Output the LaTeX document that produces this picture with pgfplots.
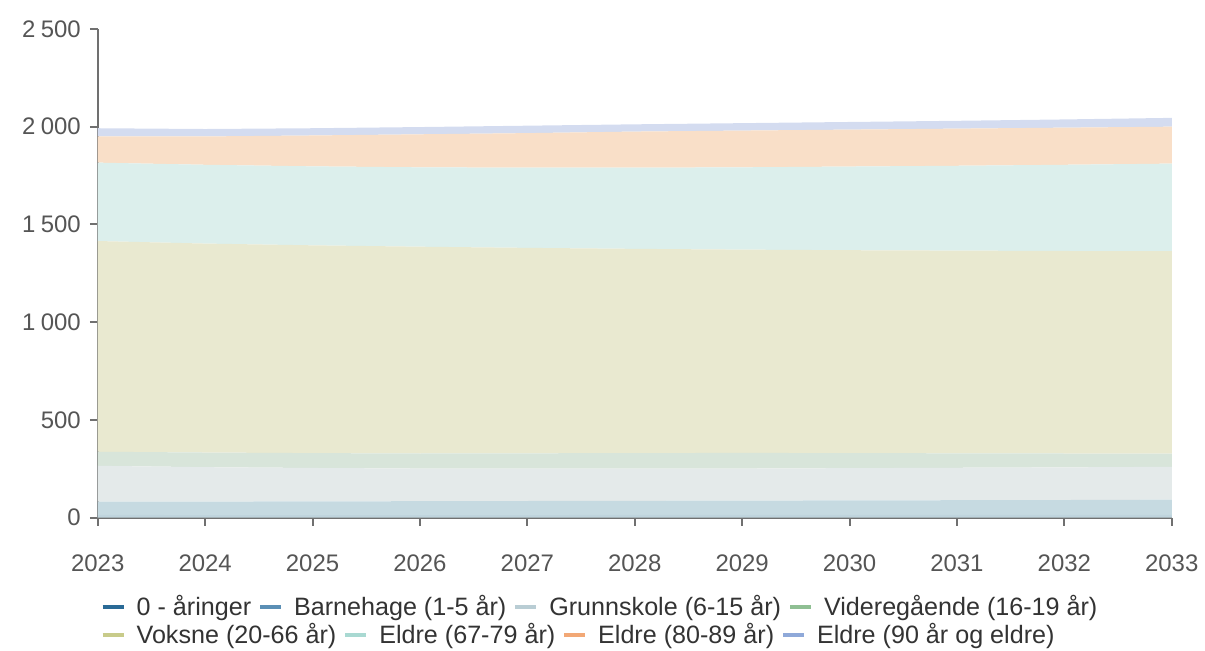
\documentclass[border=0pt]{standalone}
\usepackage{pgfplots}
\pgfplotsset{compat=1.18}
\usepackage{fontspec}
\setmainfont{Liberation Sans}

\definecolor{fA}{HTML}{BFD4DD}
\definecolor{fB}{HTML}{C6DAE1}
\definecolor{fC}{HTML}{E4EAEA}
\definecolor{fD}{HTML}{D8E5DA}
\definecolor{fE}{HTML}{E9E9D0}
\definecolor{fF}{HTML}{DCEFEC}
\definecolor{fG}{HTML}{F9DFC8}
\definecolor{fH}{HTML}{D4DCF0}
\definecolor{lA}{HTML}{2A6A96}
\definecolor{lB}{HTML}{5B8FB5}
\definecolor{lC}{HTML}{B9CDD4}
\definecolor{lD}{HTML}{8FBF93}
\definecolor{lE}{HTML}{C8CB8A}
\definecolor{lF}{HTML}{A9D9D2}
\definecolor{lG}{HTML}{F2A876}
\definecolor{lH}{HTML}{8FA9D9}
\definecolor{axisgray}{HTML}{707070}
\definecolor{ticktext}{HTML}{555555}
\definecolor{legtext}{HTML}{333333}

\pgfplotstableread{
year a b c d e f g h
2023 14 68 183 72 1078 401 134 42
2024 13 69 176 75 1069 403 145 38
2025 13 70 171 76 1063 404 158 37
2026 13 71 167 77 1058 406 169 37
2027 13 72 165 79 1051 410 177 38
2028 14 72 164 80 1045 415 185 37
2029 14 73 164 80 1040 421 188 38
2030 14 74 165 77 1038 428 189 39
2031 14 75 166 74 1037 434 190 40
2032 14 76 167 71 1036 441 190 42
2033 14 78 168 67 1036 448 189 45
}\datatable

\pgfplotsset{
  common/.style={
    scale only axis, width=538.5pt, height=245pt,
    xmin=2023, xmax=2033, ymin=0, ymax=2500,
    legend columns=-1,
    legend image code/.code={\path[draw=none,fill=none] (-2.5pt,0pt) rectangle (0pt,0pt);\draw[#1,line width=2pt,line cap=butt] (0pt,0pt) -- (10.5pt,0pt);},
    legend style={draw=none, fill=none, inner sep=0pt, outer sep=0pt,
      font=\fontsize{12.6}{14}\selectfont, text=legtext, anchor=west,
      nodes={inner sep=0pt},
      /tikz/every odd column/.append style={column sep=5.5pt},
      /tikz/every even column/.append style={column sep=2pt}},
  }
}

\begin{document}
\begin{tikzpicture}
\begin{axis}[common,
  clip=false,
  axis x line*=bottom, axis y line*=left,
  axis line style={axisgray, line width=1pt, -},
  tick align=outside, major tick length=4pt,
  tick style={axisgray, line width=1pt},
  xtick={2023,2024,...,2033},
  ytick={0,500,...,2500},
  /pgf/number format/assume math mode=true,
  x tick label style={/pgf/number format/1000 sep={}},
  y tick label style={/pgf/number format/1000 sep={\hspace{0.22em}}},
  tick label style={font=\fontsize{12}{14}\selectfont, text=ticktext},
  xticklabel shift=11pt,
  yticklabel shift=1pt,
  stack plots=y,
  legend style={at={(axis description cs:0.0,-0.1827)}},
]
\addplot[fill=fA, draw=none, forget plot] table[x=year,y=a]{\datatable} \closedcycle;
\addplot[fill=fB, draw=none, forget plot] table[x=year,y=b]{\datatable} \closedcycle;
\addplot[fill=fC, draw=none, forget plot] table[x=year,y=c]{\datatable} \closedcycle;
\addplot[fill=fD, draw=none, forget plot] table[x=year,y=d]{\datatable} \closedcycle;
\addplot[fill=fE, draw=none, forget plot] table[x=year,y=e]{\datatable} \closedcycle;
\addplot[fill=fF, draw=none, forget plot] table[x=year,y=f]{\datatable} \closedcycle;
\addplot[fill=fG, draw=none, forget plot] table[x=year,y=g]{\datatable} \closedcycle;
\addplot[fill=fH, draw=none, forget plot] table[x=year,y=h]{\datatable} \closedcycle;
\addlegendimage{lA}\addlegendentry{0 - åringer}
\addlegendimage{lB}\addlegendentry{Barnehage (1-5 år)}
\addlegendimage{lC}\addlegendentry{Grunnskole (6-15 år)}
\addlegendimage{lD}\addlegendentry{Videregående (16-19 år)}
\path (rel axis cs:-0.091,-0.2714) rectangle (rel axis cs:1.0279,1.0592);
\end{axis}
\begin{axis}[common, hide axis,
  legend style={at={(axis description cs:0.0,-0.2398)}},
]
\addlegendimage{lE}\addlegendentry{Voksne (20-66 år)}
\addlegendimage{lF}\addlegendentry{Eldre (67-79 år)}
\addlegendimage{lG}\addlegendentry{Eldre (80-89 år)}
\addlegendimage{lH}\addlegendentry{Eldre (90 år og eldre)}
\end{axis}
\end{tikzpicture}
\end{document}
